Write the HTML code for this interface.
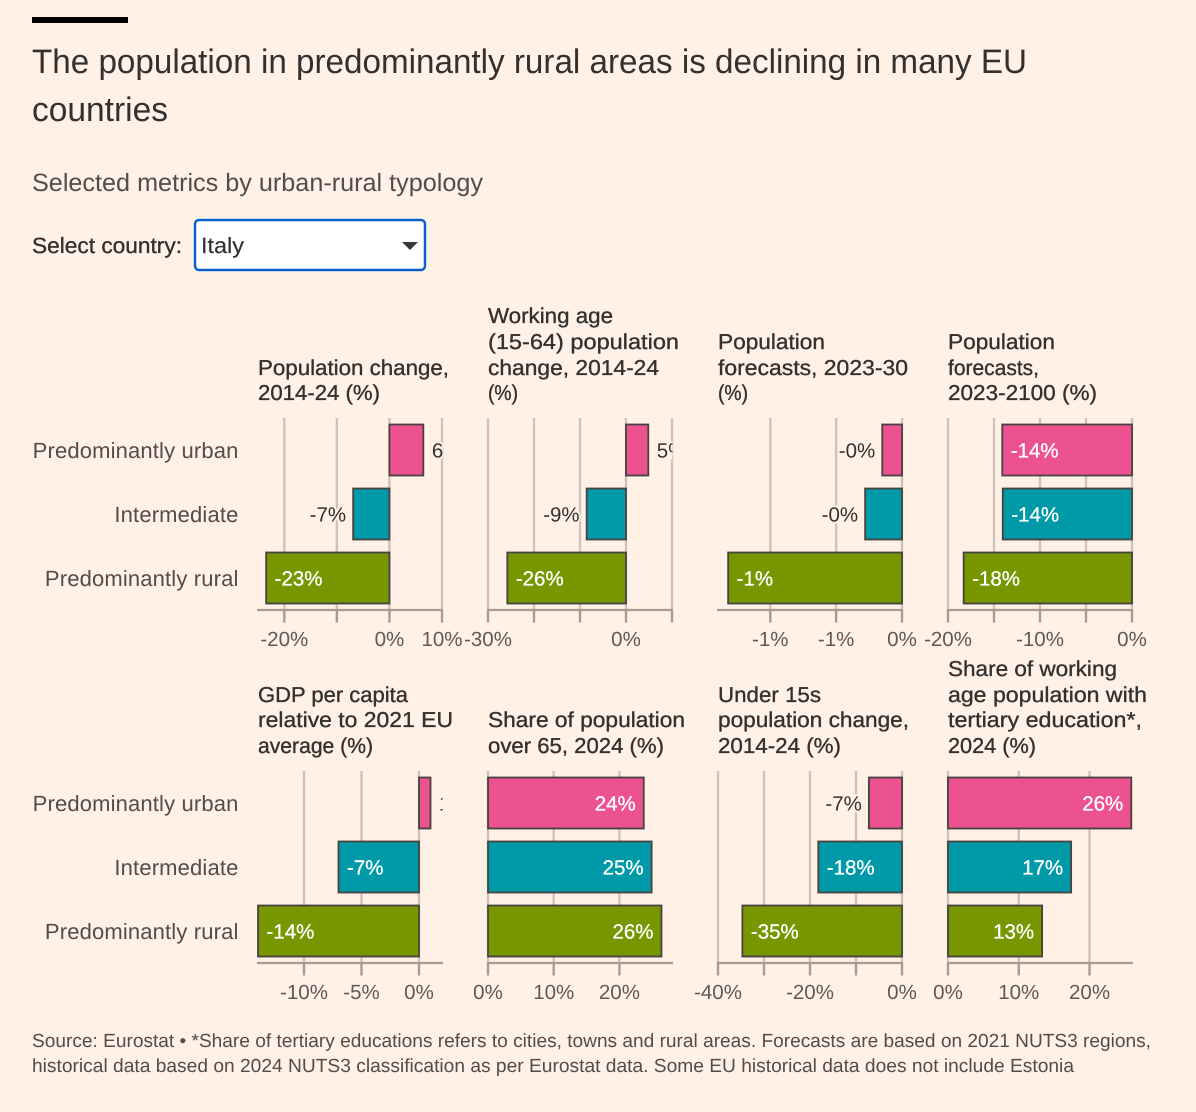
<!DOCTYPE html>
<html lang="en">
<head>
<meta charset="utf-8">
<title>The population in predominantly rural areas is declining in many EU countries</title>
<style>
  html, body { margin: 0; padding: 0; background: #fff1e5; }
  svg { display: block; font-family: "Liberation Sans", sans-serif; text-rendering: geometricPrecision; }
  .panel-title { font-size: 21.5px; fill: #33302e; stroke: #33302e; stroke-width: .35px; }
  .cat { font-size: 22px; fill: #524d4a; letter-spacing: .15px; text-anchor: end; }
  .tick { font-size: 20.5px; fill: #5f5955; text-anchor: middle; }
  .val { font-size: 20.5px; }
</style>
</head>
<body>
<svg id="chart" xmlns="http://www.w3.org/2000/svg" width="1196" height="1112" viewBox="0 0 1196 1112">
  <rect width="1196" height="1112" fill="#fff1e5"/>
  <rect x="32" y="17" width="96" height="6" fill="#000"/>
  <g font-size="34" fill="#33302e">
    <text x="32" y="73" textLength="995" lengthAdjust="spacingAndGlyphs">The population in predominantly rural areas is declining in many EU</text>
    <text x="32" y="121" textLength="136" lengthAdjust="spacingAndGlyphs">countries</text>
  </g>
  <text x="32" y="191" font-size="25" fill="#524d4a" textLength="451" lengthAdjust="spacingAndGlyphs">Selected metrics by urban-rural typology</text>
  <text x="32" y="253" font-size="22" fill="#33302e" stroke="#33302e" stroke-width=".35" textLength="150" lengthAdjust="spacingAndGlyphs">Select country:</text>
  <g>
    <rect x="193" y="218" width="234" height="54" rx="6" fill="#fff"/>
    <rect x="195" y="220" width="230" height="50" rx="4" fill="#fff" stroke="#0a5fc8" stroke-width="2.5"/>
    <text x="201" y="253" font-size="22" fill="#33302e" stroke="#33302e" stroke-width=".2" textLength="43" lengthAdjust="spacingAndGlyphs">Italy</text>
    <polygon points="402,242 418,242 410,250" fill="#3a3635"/>
  </g>

  <g class="panel-title">
    <text x="258" y="375" textLength="191" lengthAdjust="spacingAndGlyphs">Population change,</text>
    <text x="258" y="400" textLength="122" lengthAdjust="spacingAndGlyphs">2014-24 (%)</text>
  </g>
  <g class="panel-title">
    <text x="488" y="323" textLength="125" lengthAdjust="spacingAndGlyphs">Working age</text>
    <text x="488" y="349" textLength="191" lengthAdjust="spacingAndGlyphs">(15-64) population</text>
    <text x="488" y="375" textLength="171" lengthAdjust="spacingAndGlyphs">change, 2014-24</text>
    <text x="488" y="400" textLength="30" lengthAdjust="spacingAndGlyphs">(%)</text>
  </g>
  <g class="panel-title">
    <text x="718" y="349" textLength="107" lengthAdjust="spacingAndGlyphs">Population</text>
    <text x="718" y="375" textLength="190" lengthAdjust="spacingAndGlyphs">forecasts, 2023-30</text>
    <text x="718" y="400" textLength="30" lengthAdjust="spacingAndGlyphs">(%)</text>
  </g>
  <g class="panel-title">
    <text x="948" y="349" textLength="107" lengthAdjust="spacingAndGlyphs">Population</text>
    <text x="948" y="375" textLength="91" lengthAdjust="spacingAndGlyphs">forecasts,</text>
    <text x="948" y="400" textLength="149" lengthAdjust="spacingAndGlyphs">2023-2100 (%)</text>
  </g>
  <g class="panel-title">
    <text x="258" y="702" textLength="150" lengthAdjust="spacingAndGlyphs">GDP per capita</text>
    <text x="258" y="727" textLength="195" lengthAdjust="spacingAndGlyphs">relative to 2021 EU</text>
    <text x="258" y="753" textLength="115" lengthAdjust="spacingAndGlyphs">average (%)</text>
  </g>
  <g class="panel-title">
    <text x="488" y="727" textLength="197" lengthAdjust="spacingAndGlyphs">Share of population</text>
    <text x="488" y="753" textLength="176" lengthAdjust="spacingAndGlyphs">over 65, 2024 (%)</text>
  </g>
  <g class="panel-title">
    <text x="718" y="702" textLength="103" lengthAdjust="spacingAndGlyphs">Under 15s</text>
    <text x="718" y="727" textLength="191" lengthAdjust="spacingAndGlyphs">population change,</text>
    <text x="718" y="753" textLength="123" lengthAdjust="spacingAndGlyphs">2014-24 (%)</text>
  </g>
  <g class="panel-title">
    <text x="948" y="676" textLength="169" lengthAdjust="spacingAndGlyphs">Share of working</text>
    <text x="948" y="702" textLength="199" lengthAdjust="spacingAndGlyphs">age population with</text>
    <text x="948" y="727" textLength="194" lengthAdjust="spacingAndGlyphs">tertiary education*,</text>
    <text x="948" y="753" textLength="88" lengthAdjust="spacingAndGlyphs">2024 (%)</text>
  </g>

  <g id="plots"></g>

  <g font-size="19" fill="#524d4a">
    <text x="32" y="1047" textLength="1119" lengthAdjust="spacingAndGlyphs">Source: Eurostat • *Share of tertiary educations refers to cities, towns and rural areas. Forecasts are based on 2021 NUTS3 regions,</text>
    <text x="32" y="1072" textLength="1042" lengthAdjust="spacingAndGlyphs">historical data based on 2024 NUTS3 classification as per Eurostat data. Some EU historical data does not include Estonia</text>
  </g>
</svg>

<script>
// ---- data (order of values follows categories) ----
const categories = ["Predominantly urban", "Intermediate", "Predominantly rural"];
const seriesColors = ["#ec5290", "#0099a8", "#789600"];

const populationChange = [6.45, -6.9, -23.45];
const workingAgeChange = [4.85, -8.55, -25.8];
const forecasts2030 = [-0.15, -0.28, -1.32];
const forecasts2100 = [-14.1, -14.05, -18.3];
const gdpPerCapita = [1.0, -7.0, -14.0];
const shareOver65 = [23.7, 24.9, 26.4];
const under15sChange = [-7.2, -18.2, -34.7];
const tertiaryShare = [25.9, 17.4, 13.3];

const domainPopulationChange = [-25, 10];
const domainWorkingAgeChange = [-30, 10];
const domainForecasts2030 = [-1.397, 0];
const domainForecasts2100 = [-20, 0];
const domainGdpPerCapita = [-14, 2];
const domainShareOver65 = [0, 28];
const domainUnder15sChange = [-40, 0];
const domainTertiaryShare = [0, 26];

const ticksPopulationChange = [-20, -10, 0, 10];
const ticksWorkingAgeChange = [-30, -20, -10, 0, 10];
const ticksForecasts2030 = [-1, -0.5, 0];
const ticksForecasts2100 = [-20, -15, -10, -5, 0];
const ticksGdpPerCapita = [-10, -5, 0];
const ticksShareOver65 = [0, 10, 20];
const ticksUnder15sChange = [-40, -30, -20, -10, 0];
const ticksTertiaryShare = [0, 10, 20];

const tickLabelsPopulationChange = ["-20%", "", "0%", "10%"];
const tickLabelsWorkingAgeChange = ["-30%", "", "", "0%", ""];
const tickLabelsForecasts2030 = ["-1%", "-1%", "0%"];
const tickLabelsForecasts2100 = ["-20%", "", "-10%", "", "0%"];
const tickLabelsGdpPerCapita = ["-10%", "-5%", "0%"];
const tickLabelsShareOver65 = ["0%", "10%", "20%"];
const tickLabelsUnder15sChange = ["-40%", "", "-20%", "", "0%"];
const tickLabelsTertiaryShare = ["0%", "10%", "20%"];

const panelIds = ["population-change", "working-age-change", "forecasts-2030", "forecasts-2100",
                  "gdp-per-capita", "share-over-65", "under-15s-change", "tertiary-share"];
const panelValues = [populationChange, workingAgeChange, forecasts2030, forecasts2100,
                     gdpPerCapita, shareOver65, under15sChange, tertiaryShare];
const panelDomains = [domainPopulationChange, domainWorkingAgeChange, domainForecasts2030, domainForecasts2100,
                      domainGdpPerCapita, domainShareOver65, domainUnder15sChange, domainTertiaryShare];
const panelTicks = [ticksPopulationChange, ticksWorkingAgeChange, ticksForecasts2030, ticksForecasts2100,
                    ticksGdpPerCapita, ticksShareOver65, ticksUnder15sChange, ticksTertiaryShare];
const panelTickLabels = [tickLabelsPopulationChange, tickLabelsWorkingAgeChange, tickLabelsForecasts2030, tickLabelsForecasts2100,
                         tickLabelsGdpPerCapita, tickLabelsShareOver65, tickLabelsUnder15sChange, tickLabelsTertiaryShare];

// ---- layout ----
const NS = "http://www.w3.org/2000/svg";
const PANEL_W = 184, COL_X = [258, 488, 718, 948], ROW_Y = [424, 777];
const BAR_H = 51, BAND = 64, INSIDE_MIN = 60;
const plots = document.getElementById("plots");
const defs = document.createElementNS(NS, "defs");
plots.appendChild(defs);

function mk(tag, parent, attrs) {
  const el = document.createElementNS(NS, tag);
  for (const k in attrs) el.setAttribute(k, attrs[k]);
  parent.appendChild(el);
  return el;
}
function formatValue(v) {
  return (v < 0 ? "-" : "") + Math.round(Math.abs(v)) + "%";
}

panelValues.forEach(function (values, p) {
  const col = p % 4, row = Math.floor(p / 4);
  const x0 = COL_X[col], x1 = x0 + PANEL_W, top = ROW_Y[row];
  const dom = panelDomains[p];
  const xScale = function (v) { return x0 + (v - dom[0]) / (dom[1] - dom[0]) * PANEL_W; };
  const yBand = function (i) { return top + i * BAND; };
  const axisY = top + 186;

  const g = mk("g", plots, {});
  
  

  const clip = mk("clipPath", defs, { id: "clip-" + p });
  mk("rect", clip, { x: x0 - 2, y: top - 10, width: PANEL_W + 2.6, height: 190 });

  // gridlines and ticks
  panelTicks[p].forEach(function (t, i) {
    const x = xScale(t);
    const grid = mk("line", g, { x1: x, x2: x, y1: top - 6, y2: axisY, stroke: "#cdc3b9", "stroke-width": 2.4 });
    
    
    const tick = mk("line", g, { x1: x, x2: x, y1: axisY, y2: axisY + 12.5, stroke: "#a59c93", "stroke-width": 2.4 });
    
    
    if (panelTickLabels[p][i]) {
      const lab = mk("text", g, { x: x, y: axisY + 36, class: "tick" });
      lab.textContent = panelTickLabels[p][i];
      
      
    }
  });

  // axis line
  const axis = mk("line", g, { x1: x0 - 1, x2: x1 + 1, y1: axisY, y2: axisY, stroke: "#a59c93", "stroke-width": 2.2 });
  
  

  // bars and value labels
  values.forEach(function (v, i) {
    const xv = xScale(v), xz = xScale(0);
    const left = Math.min(xv, xz), w = Math.abs(xv - xz);
    const bar = mk("rect", g, {
      x: left, y: yBand(i) + 0.5, width: w, height: BAR_H,
      fill: seriesColors[i], stroke: "#47423f", "stroke-width": 1.8
    });
    
    

    const inside = w > INSIDE_MIN;
    let lx, anchor;
    if (inside) {
      lx = v < 0 ? left + 8.5 : left + w - 8;
      anchor = v < 0 ? "start" : "end";
    } else {
      lx = v < 0 ? left - 7 : left + w + 8.5;
      anchor = v < 0 ? "end" : "start";
    }
    const attrs = { x: lx, y: yBand(i) + 33.5, class: "val", "text-anchor": anchor, "clip-path": "url(#clip-" + p + ")" };
    if (inside) {
      attrs.fill = "#fff";
      attrs.stroke = "#fff";
      attrs["stroke-width"] = 0.3;
    } else {
      attrs.fill = "#33302e";
      attrs.stroke = "#fff1e5";
      attrs["stroke-width"] = 4;
      attrs["paint-order"] = "stroke";
    }
    const lab = mk("text", g, attrs);
    lab.textContent = formatValue(v);
    
    

    // category labels in the left-hand column only
    if (col === 0) {
      const cat = mk("text", g, { x: 238.5, y: yBand(i) + 34, class: "cat" });
      cat.textContent = categories[i];
      
      
    }
  });
});
</script>
</body>
</html>
